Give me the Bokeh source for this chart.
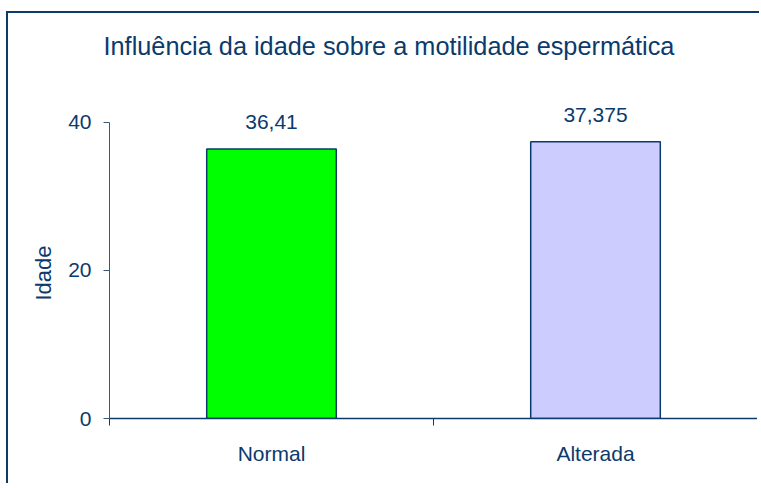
from bokeh.plotting import figure
from bokeh.layouts import column
from bokeh.models import ColumnDataSource, FixedTicker, LabelSet, Title, Range1d
from bokeh.core.properties import value
from bokeh.embed import file_html
from bokeh.resources import INLINE

# ---- data ----
categories = ["Normal", "Alterada"]
values = [36.41, 37.375]
bar_colors = ["#00FF00", "#CCCCFF"]
y_ticks = [0, 20, 40]
title_text = "Influência da idade sobre a motilidade espermática"
y_label = "Idade"

NAVY = "#0B3A6B"
FONT = "Liberation Sans"

xs = [i + 0.5 for i in range(len(categories))]
labels = [str(v).replace(".", ",") for v in values]
src = ColumnDataSource(dict(x=xs, top=values, color=bar_colors, label=labels, cat=categories))

p = figure(width=749, height=470, output_backend="svg", toolbar_location=None,
           x_range=Range1d(0, len(categories)), y_range=Range1d(0, 47),
           min_border_left=101, min_border_right=0, min_border_top=57, min_border_bottom=65)

p.vbar(x="x", top="top", width=0.4, bottom=0, fill_color="color", line_color=NAVY,
       line_width=1.5, source=src)

lbl = LabelSet(x="x", y="top", text="label", source=src, text_align="center",
               text_baseline="alphabetic", y_offset=19.5, text_font_size=value("21px"),
               text_color=NAVY, text_font=value(FONT))
p.add_layout(lbl)

# title
p.title.text = title_text
p.title.align = "left"
p.title.offset = -6
p.title.standoff = 22
p.title.text_font = FONT
p.title.text_font_size = "25.3px"
p.title.text_font_style = "normal"
p.title.text_color = NAVY

# grids / outline
p.xgrid.grid_line_color = None
p.ygrid.grid_line_color = None
p.outline_line_color = None
p.background_fill_color = "white"
p.border_fill_color = "white"

# x axis
xa = p.xaxis[0]
xa.ticker = FixedTicker(ticks=xs, minor_ticks=list(range(len(categories) + 1)))
xa.major_label_overrides = {x: c for x, c in zip(xs, categories)}
xa.major_tick_line_color = None
xa.major_tick_out = 0
xa.major_tick_in = 0
xa.minor_tick_line_color = NAVY
xa.minor_tick_out = 7
xa.minor_tick_in = 0
xa.axis_line_color = NAVY
xa.axis_line_width = 1.5
xa.major_label_standoff = 16
xa.major_label_text_font = FONT
xa.major_label_text_font_size = "21px"
xa.major_label_text_color = NAVY

# y axis
ya = p.yaxis[0]
ya.ticker = FixedTicker(ticks=y_ticks, minor_ticks=[])
ya.bounds = (y_ticks[0], y_ticks[-1])
ya.axis_line_color = "#3A5878"
ya.axis_line_width = 1
ya.major_tick_line_color = "#3A5878"
ya.major_tick_out = 6
ya.major_tick_in = 0
ya.minor_tick_line_color = None
ya.major_label_standoff = 12
ya.major_label_text_font = FONT
ya.major_label_text_font_size = "21px"
ya.major_label_text_color = NAVY

# y-axis title as a side title, placed along the 0..40 extent
ytitle = Title(text=y_label, align="left", offset=118, standoff=20,
               text_font=FONT, text_font_size="22px", text_font_style="normal",
               text_color=NAVY)
p.add_layout(ytitle, "left")

layout = column(p, margin=(11, 0, 0, 6), width=753,
                styles={"border-left": f"2px solid {NAVY}", "border-top": f"2px solid {NAVY}"})

open("out.html", "w").write(file_html(layout, INLINE))
